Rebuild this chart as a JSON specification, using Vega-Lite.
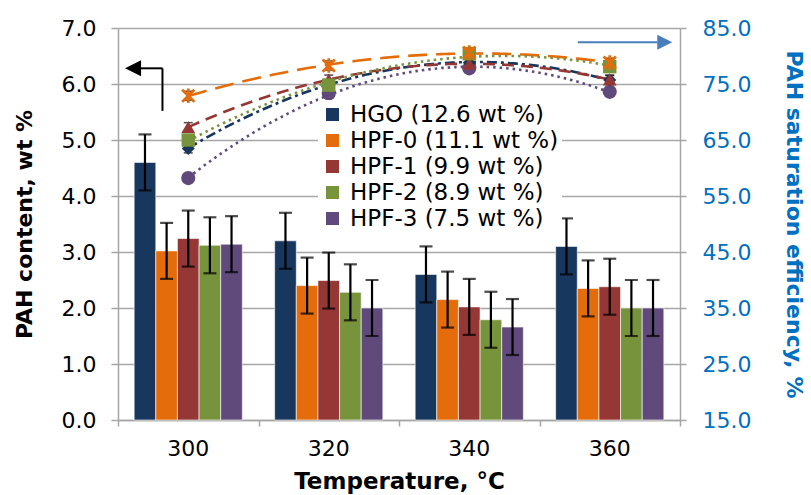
{
  "$schema": "https://vega.github.io/schema/vega-lite/v6.json",
  "width": 562,
  "height": 392,
  "autosize": {"type": "none"},
  "padding": {"left": 118, "top": 28, "right": 131, "bottom": 75},
  "background": "white",
  "config": {
    "view": {"stroke": null},
    "font": "DejaVu Sans",
    "axis": {"labelFont": "DejaVu Sans", "titleFont": "DejaVu Sans", "labelColor": "#000000", "titleColor": "#000000"}
  },
  "datasets": {
    "bars": [
      {"temp": 300, "sample": "HGO (12.6 wt %)", "pah": 4.6, "lo": 4.1, "hi": 5.1},
      {"temp": 300, "sample": "HPF-0 (11.1 wt %)", "pah": 3.02, "lo": 2.52, "hi": 3.52},
      {"temp": 300, "sample": "HPF-1 (9.9 wt %)", "pah": 3.24, "lo": 2.74, "hi": 3.74},
      {"temp": 300, "sample": "HPF-2 (8.9 wt %)", "pah": 3.12, "lo": 2.62, "hi": 3.62},
      {"temp": 300, "sample": "HPF-3 (7.5 wt %)", "pah": 3.14, "lo": 2.64, "hi": 3.64},
      {"temp": 320, "sample": "HGO (12.6 wt %)", "pah": 3.2, "lo": 2.7, "hi": 3.7},
      {"temp": 320, "sample": "HPF-0 (11.1 wt %)", "pah": 2.4, "lo": 1.9, "hi": 2.9},
      {"temp": 320, "sample": "HPF-1 (9.9 wt %)", "pah": 2.49, "lo": 1.99, "hi": 2.99},
      {"temp": 320, "sample": "HPF-2 (8.9 wt %)", "pah": 2.28, "lo": 1.78, "hi": 2.78},
      {"temp": 320, "sample": "HPF-3 (7.5 wt %)", "pah": 2.0, "lo": 1.5, "hi": 2.5},
      {"temp": 340, "sample": "HGO (12.6 wt %)", "pah": 2.6, "lo": 2.1, "hi": 3.1},
      {"temp": 340, "sample": "HPF-0 (11.1 wt %)", "pah": 2.15, "lo": 1.65, "hi": 2.65},
      {"temp": 340, "sample": "HPF-1 (9.9 wt %)", "pah": 2.02, "lo": 1.52, "hi": 2.52},
      {"temp": 340, "sample": "HPF-2 (8.9 wt %)", "pah": 1.79, "lo": 1.29, "hi": 2.29},
      {"temp": 340, "sample": "HPF-3 (7.5 wt %)", "pah": 1.66, "lo": 1.16, "hi": 2.16},
      {"temp": 360, "sample": "HGO (12.6 wt %)", "pah": 3.1, "lo": 2.6, "hi": 3.6},
      {"temp": 360, "sample": "HPF-0 (11.1 wt %)", "pah": 2.35, "lo": 1.85, "hi": 2.85},
      {"temp": 360, "sample": "HPF-1 (9.9 wt %)", "pah": 2.38, "lo": 1.88, "hi": 2.88},
      {"temp": 360, "sample": "HPF-2 (8.9 wt %)", "pah": 2.0, "lo": 1.5, "hi": 2.5},
      {"temp": 360, "sample": "HPF-3 (7.5 wt %)", "pah": 2.0, "lo": 1.5, "hi": 2.5}
    ],
    "eff": [
      {"temp": 300, "sample": "HGO (12.6 wt %)", "eff": 63.5, "lo": 62.7, "hi": 64.3},
      {"temp": 320, "sample": "HGO (12.6 wt %)", "eff": 75.0, "lo": 74.2, "hi": 75.8},
      {"temp": 340, "sample": "HGO (12.6 wt %)", "eff": 78.8, "lo": 78.0, "hi": 79.6},
      {"temp": 360, "sample": "HGO (12.6 wt %)", "eff": 75.7, "lo": 74.9, "hi": 76.5},
      {"temp": 300, "sample": "HPF-0 (11.1 wt %)", "eff": 72.9, "lo": 72.1, "hi": 73.7},
      {"temp": 320, "sample": "HPF-0 (11.1 wt %)", "eff": 78.3, "lo": 77.5, "hi": 79.1},
      {"temp": 340, "sample": "HPF-0 (11.1 wt %)", "eff": 80.6, "lo": 79.8, "hi": 81.4},
      {"temp": 360, "sample": "HPF-0 (11.1 wt %)", "eff": 78.8, "lo": 78.0, "hi": 79.6},
      {"temp": 300, "sample": "HPF-1 (9.9 wt %)", "eff": 67.3, "lo": 66.5, "hi": 68.1},
      {"temp": 320, "sample": "HPF-1 (9.9 wt %)", "eff": 75.8, "lo": 75.0, "hi": 76.6},
      {"temp": 340, "sample": "HPF-1 (9.9 wt %)", "eff": 78.6, "lo": 77.8, "hi": 79.4},
      {"temp": 360, "sample": "HPF-1 (9.9 wt %)", "eff": 75.8, "lo": 75.0, "hi": 76.6},
      {"temp": 300, "sample": "HPF-2 (8.9 wt %)", "eff": 65.0, "lo": 64.2, "hi": 65.8},
      {"temp": 320, "sample": "HPF-2 (8.9 wt %)", "eff": 74.8, "lo": 74.0, "hi": 75.6},
      {"temp": 340, "sample": "HPF-2 (8.9 wt %)", "eff": 80.4, "lo": 79.6, "hi": 81.2},
      {"temp": 360, "sample": "HPF-2 (8.9 wt %)", "eff": 78.1, "lo": 77.3, "hi": 78.9},
      {"temp": 300, "sample": "HPF-3 (7.5 wt %)", "eff": 58.2, "lo": 57.4, "hi": 59.0},
      {"temp": 320, "sample": "HPF-3 (7.5 wt %)", "eff": 73.3, "lo": 72.5, "hi": 74.1},
      {"temp": 340, "sample": "HPF-3 (7.5 wt %)", "eff": 77.8, "lo": 77.0, "hi": 78.6},
      {"temp": 360, "sample": "HPF-3 (7.5 wt %)", "eff": 73.6, "lo": 72.8, "hi": 74.4}
    ]
  },
  "layer": [
    {
      "data": {"name": "bars"},
      "encoding": {
        "x": {
          "field": "temp", "type": "ordinal",
          "scale": {"paddingInner": 0.23, "paddingOuter": 0.115},
          "axis": {
            "title": "Temperature, °C", "ticks": false, "labelAngle": 0,
            "labelFontSize": 22, "labelPadding": 18,
            "domainColor": "#a6a6a6", "domainWidth": 1.5,
            "titleFontSize": 23, "titleFontWeight": "bold", "titlePadding": 11
          }
        },
        "xOffset": {
          "field": "sample", "type": "nominal",
          "sort": ["HGO (12.6 wt %)", "HPF-0 (11.1 wt %)", "HPF-1 (9.9 wt %)", "HPF-2 (8.9 wt %)", "HPF-3 (7.5 wt %)"]
        }
      },
      "layer": [
        {
          "mark": {"type": "bar", "stroke": "#ffffff", "strokeWidth": 0.6},
          "encoding": {
            "y": {
              "field": "pah", "type": "quantitative", "title": "PAH content, wt %",
              "scale": {"domain": [0, 7], "nice": false},
              "axis": {
                "values": [0, 1, 2, 3, 4, 5, 6, 7], "format": ".1f",
                "grid": true, "gridColor": "#a6a6a6", "gridWidth": 1.5,
                "domainColor": "#a6a6a6", "domainWidth": 1.5,
                "tickColor": "#a6a6a6", "tickWidth": 1.5, "tickSize": 7,
                "labelPadding": 15, "labelFontSize": 22,
                "titleFontSize": 22, "titleFontWeight": "bold", "titlePadding": 25
              }
            },
            "color": {
              "field": "sample", "type": "nominal",
              "scale": {
                "domain": ["HGO (12.6 wt %)", "HPF-0 (11.1 wt %)", "HPF-1 (9.9 wt %)", "HPF-2 (8.9 wt %)", "HPF-3 (7.5 wt %)"],
                "range": ["#17375e", "#e46c0a", "#953735", "#77933c", "#604a7b"]
              },
              "legend": {
                "title": null, "orient": "none", "legendX": 200, "legendY": 72,
                "fillColor": "#ffffff", "padding": 3,
                "symbolType": "square", "symbolSize": 169, "symbolStrokeWidth": 0,
                "labelFont": "DejaVu Sans", "labelFontSize": 23, "labelColor": "#000000",
                "labelOffset": 6, "rowPadding": 2, "labelLimit": 400
              }
            }
          }
        },
        {
          "mark": {"type": "rule", "color": "#000000", "strokeWidth": 2.2},
          "encoding": {
            "y": {"field": "lo", "type": "quantitative", "title": "PAH content, wt %"},
            "y2": {"field": "hi"}
          }
        },
        {
          "mark": {"type": "tick", "color": "#000000", "orient": "horizontal", "size": 13, "thickness": 2.2},
          "encoding": {"y": {"field": "lo", "type": "quantitative", "title": "PAH content, wt %"}}
        },
        {
          "mark": {"type": "tick", "color": "#000000", "orient": "horizontal", "size": 13, "thickness": 2.2},
          "encoding": {"y": {"field": "hi", "type": "quantitative", "title": "PAH content, wt %"}}
        }
      ]
    },
    {
      "data": {"name": "eff"},
      "layer": [
        {
          "transform": [
            {"regression": "eff", "on": "temp", "groupby": ["sample"], "method": "poly", "order": 2, "extent": [300, 360]}
          ],
          "mark": {"type": "line", "strokeWidth": 2.6},
          "encoding": {
            "x": {
              "field": "temp", "type": "quantitative", "title": null,
              "scale": {"domain": [290, 370], "nice": false, "zero": false},
              "axis": {
                "orient": "bottom", "values": [290, 310, 330, 350, 370], "labels": false,
                "domain": false, "grid": false,
                "tickColor": "#a6a6a6", "tickWidth": 1.5, "tickSize": 6
              }
            },
            "y": {
              "field": "eff", "type": "quantitative", "title": "PAH saturation efficiency, %",
              "scale": {"domain": [15, 85], "nice": false, "zero": false},
              "axis": {
                "orient": "right",
                "values": [15, 25, 35, 45, 55, 65, 75, 85], "format": ".1f", "grid": false,
                "domainColor": "#a6a6a6", "domainWidth": 1.5,
                "tickColor": "#a6a6a6", "tickWidth": 1.5, "tickSize": 6,
                "labelPadding": 16, "labelFontSize": 22, "labelColor": "#0070c0",
                "titleFontSize": 22, "titleFontWeight": "bold", "titleColor": "#0070c0", "titlePadding": 31
              }
            },
            "stroke": {
              "field": "sample", "type": "nominal",
              "scale": {
                "domain": ["HGO (12.6 wt %)", "HPF-0 (11.1 wt %)", "HPF-1 (9.9 wt %)", "HPF-2 (8.9 wt %)", "HPF-3 (7.5 wt %)"],
                "range": ["#17375e", "#e46c0a", "#953735", "#77933c", "#604a7b"]
              },
              "legend": null
            },
            "strokeDash": {
              "field": "sample", "type": "nominal",
              "scale": {
                "domain": ["HGO (12.6 wt %)", "HPF-0 (11.1 wt %)", "HPF-1 (9.9 wt %)", "HPF-2 (8.9 wt %)", "HPF-3 (7.5 wt %)"],
                "range": [[10, 4, 3, 4], [19, 9], [12, 7], [2.5, 4], [2.5, 4]]
              },
              "legend": null
            }
          }
        },
        {
          "mark": {"type": "rule", "color": "#000000", "strokeWidth": 1.2},
          "encoding": {
            "x": {"field": "temp", "type": "quantitative", "title": null},
            "y": {"field": "lo", "type": "quantitative", "title": "PAH saturation efficiency, %"},
            "y2": {"field": "hi"}
          }
        },
        {
          "mark": {"type": "tick", "color": "#000000", "orient": "horizontal", "size": 9, "thickness": 1.5},
          "encoding": {
            "x": {"field": "temp", "type": "quantitative", "title": null},
            "y": {"field": "lo", "type": "quantitative", "title": "PAH saturation efficiency, %"}
          }
        },
        {
          "mark": {"type": "tick", "color": "#000000", "orient": "horizontal", "size": 9, "thickness": 1.5},
          "encoding": {
            "x": {"field": "temp", "type": "quantitative", "title": null},
            "y": {"field": "hi", "type": "quantitative", "title": "PAH saturation efficiency, %"}
          }
        },
        {
          "transform": [{"filter": "datum.sample === 'HPF-3 (7.5 wt %)'"}],
          "mark": {"type": "point", "shape": "circle", "filled": true, "color": "#604a7b", "size": 200, "opacity": 1},
          "encoding": {
            "x": {"field": "temp", "type": "quantitative", "title": null},
            "y": {"field": "eff", "type": "quantitative", "title": "PAH saturation efficiency, %"}
          }
        },
        {
          "transform": [{"filter": "datum.sample === 'HGO (12.6 wt %)'"}],
          "mark": {"type": "point", "shape": "diamond", "filled": true, "color": "#17375e", "size": 170, "opacity": 1},
          "encoding": {
            "x": {"field": "temp", "type": "quantitative", "title": null},
            "y": {"field": "eff", "type": "quantitative", "title": "PAH saturation efficiency, %"}
          }
        },
        {
          "transform": [{"filter": "datum.sample === 'HPF-1 (9.9 wt %)'"}],
          "mark": {"type": "point", "shape": "triangle-up", "filled": true, "color": "#953735", "size": 190, "opacity": 1},
          "encoding": {
            "x": {"field": "temp", "type": "quantitative", "title": null},
            "y": {"field": "eff", "type": "quantitative", "title": "PAH saturation efficiency, %"}
          }
        },
        {
          "transform": [{"filter": "datum.sample === 'HPF-2 (8.9 wt %)'"}],
          "mark": {"type": "point", "shape": "square", "filled": true, "color": "#77933c", "size": 180, "opacity": 1},
          "encoding": {
            "x": {"field": "temp", "type": "quantitative", "title": null},
            "y": {"field": "eff", "type": "quantitative", "title": "PAH saturation efficiency, %"}
          }
        },
        {
          "transform": [{"filter": "datum.sample === 'HPF-0 (11.1 wt %)'"}],
          "mark": {"type": "point", "shape": "M-1,-1L1,1M-1,1L1,-1M0,-1.2L0,1.2", "filled": false, "stroke": "#e46c0a", "strokeWidth": 2.8, "size": 150, "opacity": 1},
          "encoding": {
            "x": {"field": "temp", "type": "quantitative", "title": null},
            "y": {"field": "eff", "type": "quantitative", "title": "PAH saturation efficiency, %"}
          }
        },
        {
          "data": {"values": [{}]},
          "mark": {"type": "rule", "color": "#000000", "strokeWidth": 2},
          "encoding": {
            "x": {"datum": 296.33, "type": "quantitative", "title": null},
            "y": {"datum": 70.2, "type": "quantitative", "title": "PAH saturation efficiency, %"},
            "y2": {"datum": 77.8}
          }
        },
        {
          "data": {"values": [{}]},
          "mark": {"type": "rule", "color": "#000000", "strokeWidth": 2},
          "encoding": {
            "x": {"datum": 293.2, "type": "quantitative", "title": null},
            "x2": {"datum": 296.33},
            "y": {"datum": 77.8, "type": "quantitative", "title": "PAH saturation efficiency, %"}
          }
        },
        {
          "data": {"values": [{}]},
          "mark": {"type": "point", "shape": "M-1,0L1,-1L1,1Z", "size": 256, "filled": true, "color": "#000000", "opacity": 1},
          "encoding": {
            "x": {"datum": 292.14, "type": "quantitative", "title": null},
            "y": {"datum": 77.8, "type": "quantitative", "title": "PAH saturation efficiency, %"}
          }
        },
        {
          "data": {"values": [{}]},
          "mark": {"type": "rule", "color": "#4a7ebb", "strokeWidth": 2},
          "encoding": {
            "x": {"datum": 355.45, "type": "quantitative", "title": null},
            "x2": {"datum": 366.8},
            "y": {"datum": 82.45, "type": "quantitative", "title": "PAH saturation efficiency, %"}
          }
        },
        {
          "data": {"values": [{}]},
          "mark": {"type": "point", "shape": "M1,0L-1,-1L-1,1Z", "size": 225, "filled": true, "color": "#4a7ebb", "opacity": 1},
          "encoding": {
            "x": {"datum": 367.83, "type": "quantitative", "title": null},
            "y": {"datum": 82.45, "type": "quantitative", "title": "PAH saturation efficiency, %"}
          }
        }
      ]
    }
  ],
  "resolve": {"scale": {"x": "independent", "y": "independent"}}
}
